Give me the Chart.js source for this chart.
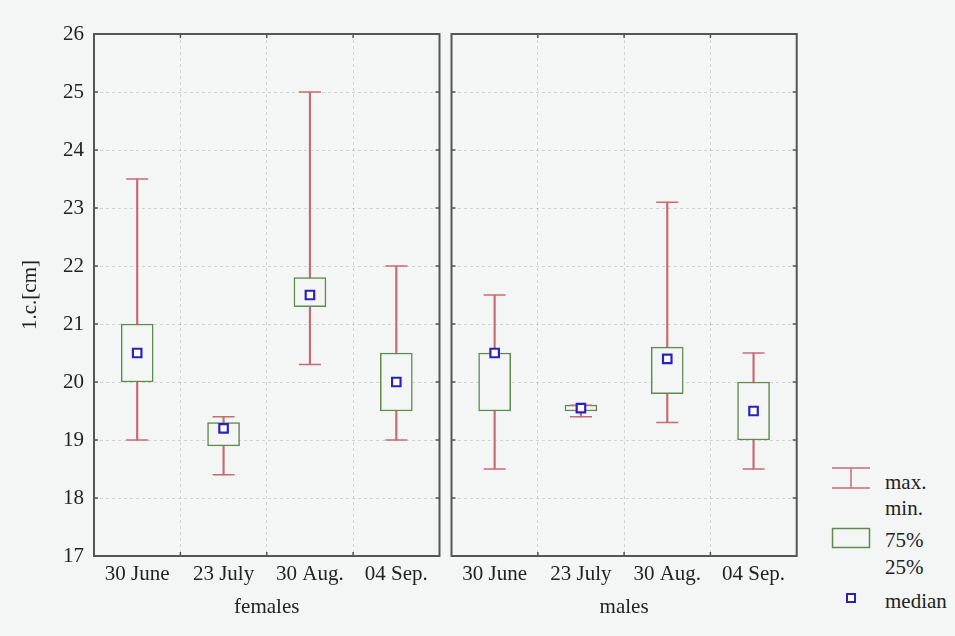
<!DOCTYPE html>
<html>
<head>
<meta charset="utf-8">
<script src="https://cdn.jsdelivr.net/npm/chart.js@4.4.0/dist/chart.umd.min.js"></script>
<style>
  html, body { margin: 0; padding: 0; background: #f4f6f6; }
  #wrap { position: relative; width: 955px; height: 636px; overflow: hidden; font-family: "Liberation Serif", serif; color: #222; }
  #cLeft { position: absolute; left: 0; top: 0; }
  #cRight { position: absolute; left: 446px; top: 0; }
  .lg { position: absolute; font-size: 21px; line-height: 24px; }
</style>
</head>
<body>
<div id="wrap">
  <canvas id="cLeft" width="446" height="636"></canvas>
  <canvas id="cRight" width="360" height="636"></canvas>

  <svg class="lg" style="left:830px;top:465px" width="44" height="90">
    <line x1="2" y1="3" x2="40" y2="3" stroke="#c86a72" stroke-width="1.5"/>
    <line x1="2" y1="23" x2="40" y2="23" stroke="#c86a72" stroke-width="1.5"/>
    <line x1="21" y1="3" x2="21" y2="23" stroke="#c86a72" stroke-width="1.5"/>
    <rect x="2.5" y="63.5" width="37" height="19" fill="none" stroke="#5f8a4c" stroke-width="1.5"/>
  </svg>
  <div class="lg" style="left:885px;top:470px">max.</div>
  <div class="lg" style="left:885px;top:496px">min.</div>
  <div class="lg" style="left:885px;top:528px">75%</div>
  <div class="lg" style="left:885px;top:555px">25%</div>
  <svg class="lg" style="left:844px;top:591px" width="14" height="14">
    <rect x="3" y="3" width="8" height="8" fill="#fff" stroke="#2a22c0" stroke-width="2"/>
  </svg>
  <div class="lg" style="left:885px;top:589px">median</div>
</div>
<script>
const categories = ["30 June", "23 July", "30 Aug.", "04 Sep."];

const femMax = [23.5, 19.4, 25.0, 22.0];
const femMin = [19.0, 18.4, 20.3, 19.0];
const femQ3 = [21.0, 19.3, 21.8, 20.5];
const femQ1 = [20.0, 18.9, 21.3, 19.5];
const femMedian = [20.5, 19.2, 21.5, 20.0];

const maleMax = [21.5, 19.6, 23.1, 20.5];
const maleMin = [18.5, 19.4, 19.3, 18.5];
const maleQ3 = [20.5, 19.6, 20.6, 20.0];
const maleQ1 = [19.5, 19.5, 19.8, 19.0];
const maleMedian = [20.5, 19.55, 20.4, 19.5];

const yTicks = { min: 17, max: 26, step: 1 };

const BG = "#f4f6f6";
const RED = "#c86a72";
const GREEN = "#5f8a4c";
const BLUE = "#2a22c0";
const FONT = { family: "'Liberation Serif', serif", size: 21 };

// frame + small inward ticks around the plot area
const framePlugin = {
  id: "frame",
  afterDraw(chart) {
    const { ctx, chartArea: a, scales } = chart;
    ctx.save();
    ctx.strokeStyle = "#555";
    ctx.lineWidth = 2;
    ctx.strokeRect(a.left, a.top, a.right - a.left, a.bottom - a.top);
    ctx.lineWidth = 1.5;
    ctx.beginPath();
    for (let v = yTicks.min + 1; v < yTicks.max; v += yTicks.step) {
      const y = scales.y.getPixelForValue(v);
      ctx.moveTo(a.left, y); ctx.lineTo(a.left + 4, y);
      ctx.moveTo(a.right, y); ctx.lineTo(a.right - 4, y);
    }
    for (let i = 1; i < categories.length; i++) {
      const x = (scales.x.getPixelForValue(i - 1) + scales.x.getPixelForValue(i)) / 2;
      ctx.moveTo(x, a.top); ctx.lineTo(x, a.top + 4);
      ctx.moveTo(x, a.bottom); ctx.lineTo(x, a.bottom - 4);
    }
    ctx.stroke();
    ctx.restore();
  }
};

function boxDatasets(max, min, q1, q3, med) {
  return [
    {
      type: "line", data: med, showLine: false, order: 0,
      pointStyle: "rect", pointRadius: 6, pointHoverRadius: 6,
      pointBorderColor: BLUE, pointBackgroundColor: "#fff", pointBorderWidth: 2.2
    },
    {
      type: "line", data: max, showLine: false, order: 1,
      pointStyle: "line", pointRadius: 11, pointHoverRadius: 11,
      pointBorderColor: RED, pointBorderWidth: 1.5
    },
    {
      type: "line", data: min, showLine: false, order: 1,
      pointStyle: "line", pointRadius: 11, pointHoverRadius: 11,
      pointBorderColor: RED, pointBorderWidth: 1.5
    },
    {
      type: "bar", data: q1.map((v, i) => [v, q3[i]]), order: 2, grouped: false,
      barThickness: 32, backgroundColor: BG, borderColor: GREEN,
      borderWidth: 1.5, borderSkipped: false
    },
    {
      type: "bar", data: min.map((v, i) => [v, max[i]]), order: 3, grouped: false,
      barThickness: 1.5, backgroundColor: RED, borderWidth: 0
    }
  ];
}

function makeChart(id, title, datasets, isLeft) {
  return new Chart(document.getElementById(id), {
    type: "bar",
    data: { labels: categories, datasets },
    options: {
      responsive: false,
      animation: false,
      events: [],
      layout: {
        autoPadding: false,
        padding: isLeft ? { top: 34, right: 6.5, left: 0, bottom: 0 } : { top: 34, right: 9.3, left: 5.5, bottom: 0 }
      },
      plugins: { legend: { display: false }, tooltip: { enabled: false } },
      scales: {
        x: {
          grid: { color: "rgba(0,0,0,0.14)", drawTicks: false, offset: true },
          border: { display: false, dash: [3, 3] },
          ticks: { font: FONT, color: "#222", padding: 6, maxRotation: 0 },
          title: { display: true, text: title, font: FONT, color: "#222", padding: { top: 2, bottom: 16 } },
          afterFit: (s) => { s.height = 80; }
        },
        y: {
          min: yTicks.min, max: yTicks.max,
          grid: { color: "rgba(0,0,0,0.14)", drawTicks: false },
          border: { display: false, dash: [3, 3] },
          ticks: { display: isLeft, stepSize: yTicks.step, font: FONT, color: "#222", padding: 10 },
          title: { display: isLeft, text: "1.c.[cm]", font: FONT, color: "#222", padding: { top: 18, bottom: 0 } },
          afterFit: (s) => { s.width = isLeft ? 94 : 0; }
        }
      }
    },
    plugins: [framePlugin]
  });
}

makeChart("cLeft", "females", boxDatasets(femMax, femMin, femQ1, femQ3, femMedian), true);
makeChart("cRight", "males", boxDatasets(maleMax, maleMin, maleQ1, maleQ3, maleMedian), false);
</script>
</body>
</html>
